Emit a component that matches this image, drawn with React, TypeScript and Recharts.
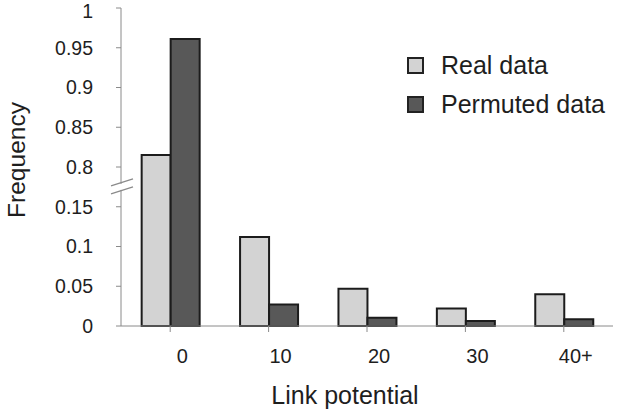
import { BarChart, Bar, XAxis, YAxis } from 'recharts'

// values
const categories = ['0', '10', '20', '30', '40+']
const realData = [0.815, 0.112, 0.047, 0.022, 0.04]
const permutedData = [0.961, 0.027, 0.0105, 0.0063, 0.0084]
const yTicks = [0, 0.05, 0.1, 0.15, 0.8, 0.85, 0.9, 0.95, 1]

// broken axis: lower part 0..0.15 kept, upper part 0.8..1 shifted down by 0.6
const BREAK_LOW = 0.15
const BREAK_HIGH = 0.8
const SHIFT = 0.6
const toAxis = (v: number) => (v >= BREAK_HIGH ? v - SHIFT : v)
const fromAxis = (v: number) => (v > BREAK_LOW + 0.02 ? v + SHIFT : v)

const data = categories.map((c, i) => ({
  name: c,
  real: toAxis(realData[i]),
  permuted: toAxis(permutedData[i]),
}))

const W = 617
const H = 412
const FONT = '"Liberation Sans", Arial, sans-serif'
const TEXT = '#1e1e1e'
const AXIS = '#8a8a8a'
const LIGHT = '#d3d3d3'
const DARK = '#585858'
const margin = { top: 8, right: 4, left: 0, bottom: 0 }
const Y_AXIS_W = 121
const X_AXIS_H = 86
const plotTop = margin.top
const plotBottom = H - margin.bottom - X_AXIS_H
const axisMax = 0.4
const yPix = (v: number) => plotTop + ((axisMax - v) / axisMax) * (plotBottom - plotTop)

const fmt = (v: number) => String(Math.round(fromAxis(v) * 100) / 100)

function XTick(props: any) {
  const { x, y, payload } = props
  return (
    <text x={x + 12} y={y + 29} textAnchor="middle" fontSize={20} fill={TEXT} fontFamily={FONT}>
      {payload.value}
    </text>
  )
}

function LegendBox() {
  const items = [
    { label: 'Real data', fill: LIGHT },
    { label: 'Permuted data', fill: DARK },
  ]
  return (
    <div style={{ position: 'absolute', left: 407, top: 46, fontFamily: FONT }}>
      {items.map((it) => (
        <div key={it.label} style={{ display: 'flex', alignItems: 'center', height: 39 }}>
          <div
            style={{
              width: 13,
              height: 13,
              background: it.fill,
              border: '2px solid #222',
              marginRight: 17,
            }}
          />
          <span style={{ fontSize: 25, color: TEXT }}>{it.label}</span>
        </div>
      ))}
    </div>
  )
}

export default function App() {
  const breakY = yPix(0.175)
  const ax = Y_AXIS_W
  return (
    <div style={{ position: 'absolute', left: 0, top: 0, width: W, height: H, background: '#fff' }}>
      <BarChart width={W} height={H} data={data} margin={margin} barCategoryGap="21%" barGap={0}>
        <XAxis
          dataKey="name"
          height={X_AXIS_H}
          stroke={AXIS}
          tickLine={{ stroke: AXIS }}
          tickSize={6}
          tick={<XTick />}
          interval={0}
          label={{
            content: () => (
              <text
                x={345}
                y={plotBottom + 78}
                textAnchor="middle"
                fontSize={25}
                fill={TEXT}
                fontFamily={FONT}
              >
                Link potential
              </text>
            ),
          }}
        />
        <YAxis
          width={Y_AXIS_W}
          domain={[0, axisMax]}
          ticks={yTicks.map(toAxis)}
          tickFormatter={fmt}
          stroke={AXIS}
          tickLine={{ stroke: AXIS }}
          tickSize={5}
          tickMargin={23}
          tick={{ fontSize: 19.5, fill: TEXT, fontFamily: FONT }}
          label={{
            content: () => {
              const cx = 16
              const cy = 160
              return (
                <text
                  x={cx}
                  y={cy}
                  transform={`rotate(-90 ${cx} ${cy})`}
                  textAnchor="middle"
                  dominantBaseline="central"
                  fontSize={24.5}
                  fill={TEXT}
                  fontFamily={FONT}
                >
                  Frequency
                </text>
              )
            },
          }}
        />
        <Bar dataKey="real" name="Real data" fill={LIGHT} stroke="#1c1c1c" strokeWidth={2} isAnimationActive={false} />
        <Bar dataKey="permuted" name="Permuted data" fill={DARK} stroke="#1c1c1c" strokeWidth={2} isAnimationActive={false} />
      </BarChart>
      <LegendBox />
      <svg width={W} height={H} style={{ position: 'absolute', left: 0, top: 0, pointerEvents: 'none' }}>
        <rect x={ax - 3} y={breakY - 3} width={6} height={6} fill="#fff" />
        <line x1={ax - 10} y1={breakY - 1} x2={ax + 12} y2={breakY - 8} stroke={AXIS} strokeWidth={1.2} />
        <line x1={ax - 10} y1={breakY + 7} x2={ax + 12} y2={breakY} stroke={AXIS} strokeWidth={1.2} />
      </svg>
    </div>
  )
}
